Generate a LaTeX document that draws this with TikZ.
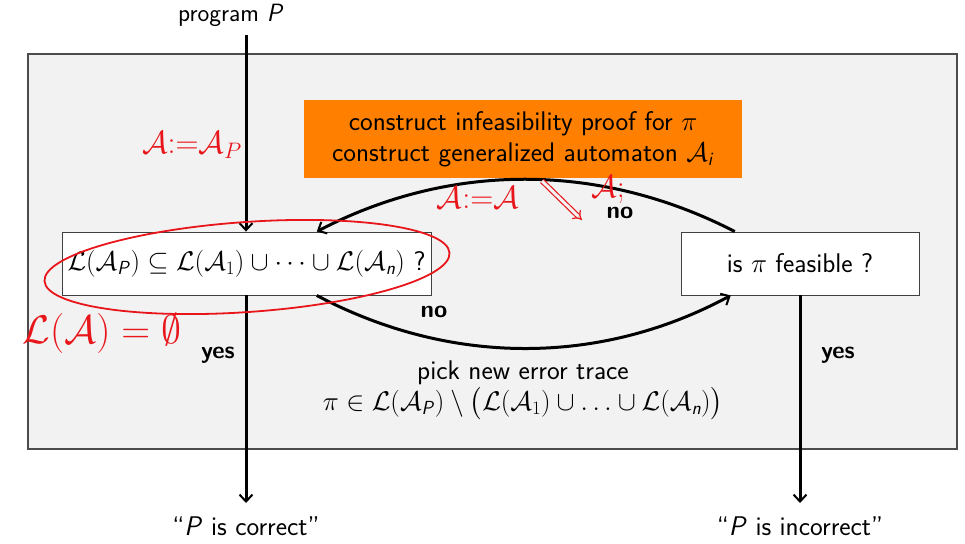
\RequirePackage{fix-cm}
\documentclass[tikz,border=0pt]{standalone}
\usepackage{amsmath,amssymb}
\usetikzlibrary{arrows.meta,calc}
\definecolor{bgray}{HTML}{F2F2F2}
\definecolor{borange}{HTML}{FF8000}
\definecolor{hand}{HTML}{E8161B}
\newcommand{\sv}[1]{\textsf{\textit{#1}}}
\begin{document}
\begin{tikzpicture}[x=1pt,y=-1pt,
  font=\sffamily\fontsize{27}{31}\selectfont,
  qbox/.style={draw=black!75,line width=0.9pt,fill=white,inner sep=0pt,align=center},
  flow/.style={line width=3pt,-{Straight Barb[length=7pt,width=13pt,line width=2pt]}},
  lbl/.style={font=\sffamily\bfseries\fontsize{24}{26}\selectfont},
  red/.style={draw=hand,line width=1.8pt},
  redtxt/.style={text=hand}]
\useasboundingbox (0,0) rectangle (965,543);
\draw[draw=black!70,line width=1.4pt,fill=bgray] (28,54) rectangle (957,449);

\node[qbox,minimum width=369pt,minimum height=63pt] (L) at (246.5,263.5)
  {$\mathcal{L}(\mathcal{A}_{\sv{P}})\subseteq\mathcal{L}(\mathcal{A}_1)\cup\dots\cup\mathcal{L}(\mathcal{A}_{\sv{n}})$ ?};
\node[qbox,minimum width=238pt,minimum height=63pt] (R) at (800,263.5) {is $\pi$ feasible ?};
\node[fill=borange,minimum width=438pt,minimum height=78pt,inner sep=0pt,align=center] (O) at (523,139)
  {construct infeasibility proof for $\pi$\\construct generalized automaton $\mathcal{A}_{\sv{i}}$};

\node[font=\sffamily\fontsize{25}{28}\selectfont] (prog) at (231,15) {program \textit{P}};
\coordinate (top) at (246,35);
\coordinate (endl) at (246,503);
\coordinate (endr) at (800,503);
\node (corr) at (246,526) {``\textit{P} is correct''};
\node (incorr) at (800,526) {``\textit{P} is incorrect''};

\draw[flow] (top) -- (L.north -| top);
\draw[flow] (L.south -| endl) -- (endl);
\draw[flow] (R.south -| endr) -- (endr);

\coordinate (Ltop) at ($(L.north west)!0.69!(L.north east)$);
\coordinate (Lbot) at ($(L.south west)!0.69!(L.south east)$);
\coordinate (Rtop) at ($(R.north west)!0.227!(R.north east)$);
\coordinate (Rbot) at ($(R.south west)!0.21!(R.south east)$);
\draw[flow] (Rtop) .. controls (600,162) and (450,162) .. (Ltop);
\draw[flow] (Lbot) .. controls (450,366) and (600,366) .. (Rbot);

\node[lbl] (no1) at (620,213) {no};
\node[lbl] (no2) at (434,312) {no};
\node[lbl] (yes1) at (218,355) {yes};
\node[lbl] (yes2) at (838,355) {yes};

\node[align=center] (pick) at (523,390)
  {pick new error trace\\$\pi\in\mathcal{L}(\mathcal{A}_{\sv{P}})\setminus\bigl(\mathcal{L}(\mathcal{A}_1)\cup\ldots\cup\mathcal{L}(\mathcal{A}_{\sv{n}})\bigr)$};

% handwritten red annotations
\draw[red,rotate around={4:(247,267)}] (247,267) ellipse [x radius=203, y radius=45];
\node[redtxt,font=\fontsize{32}{32}\selectfont] (h1) at (192,145) {$\mathcal{A}{:=}\mathcal{A}_P$};
\node[redtxt,font=\fontsize{40}{40}\selectfont] (h2) at (102,333) {$\mathcal{L}(\mathcal{A})=\emptyset$};
\node[redtxt,font=\fontsize{32}{32}\selectfont] (h3) at (478,198) {$\mathcal{A}{:=}\mathcal{A}$};
\node[redtxt,font=\fontsize{32}{32}\selectfont] (h4) at (608,190) {$\mathcal{A}$;};
\coordinate (ha) at (542,181);
\coordinate (hb) at (582,220);
\draw[draw=hand,line width=1.2pt,double=bgray,double distance=3pt,-{Implies}] (ha) -- (hb);
\end{tikzpicture}
\end{document}
